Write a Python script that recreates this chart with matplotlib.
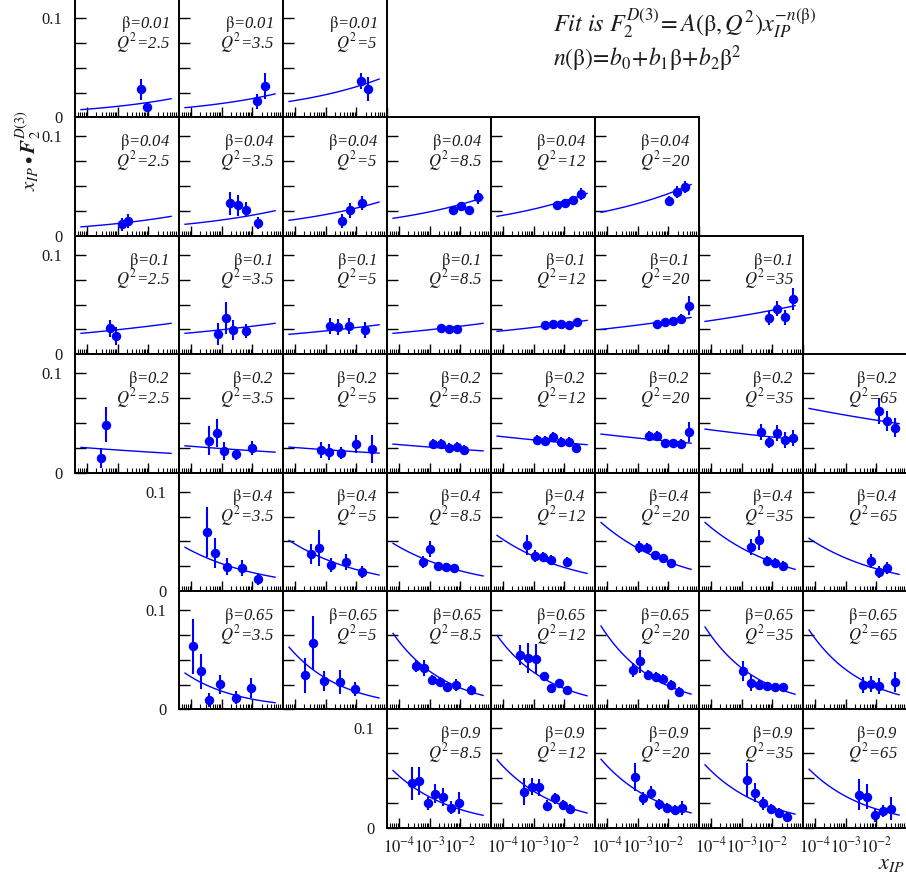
import matplotlib
matplotlib.use("Agg")
import matplotlib.pyplot as plt
import numpy as np
from matplotlib.ticker import FixedLocator, NullFormatter, FixedFormatter

plt.rcParams['font.family'] = 'Liberation Serif'
plt.rcParams['mathtext.fontset'] = 'stix'

betas = [0.01, 0.04, 0.1, 0.2, 0.4, 0.65, 0.9]
q2_values = [2.5, 3.5, 5, 8.5, 12, 20, 35, 65]
beta_text = ['0.01', '0.04', '0.1', '0.2', '0.4', '0.65', '0.9']
q2_text = ['2.5', '3.5', '5', '8.5', '12', '20', '35', '65']

fit_power = [0.13, 0.115, 0.058, -0.04, -0.17, -0.25, -0.225]
fit_xrange = (6.3e-5, 0.055)

# points per beta row: Q2 -> (x_IP, x_IP*F2, error)
beta_001 = {
    2.5: ([5.9e-3, 8.8e-3], [0.0285, 0.0108], [0.0106, 0.005]),
    3.5: ([0.0142, 0.0253], [0.0161, 0.0312], [0.0076, 0.013]),
    5: ([0.0142, 0.024], [0.037, 0.029], [0.008, 0.012]),
}
beta_004 = {
    2.5: ([1.41e-3, 2.1e-3], [0.0116, 0.0149], [0.0064, 0.007]),
    3.5: ([1.86e-3, 3.4e-3, 6.2e-3, 0.0149], [0.0327, 0.0307, 0.0264, 0.0129], [0.0117, 0.0106, 0.0076, 0.0064]),
    5: ([3.4e-3, 6.2e-3, 0.0153], [0.0146, 0.0257, 0.0327], [0.007, 0.0075, 0.007]),
    8.5: ([5.7e-3, 0.0105, 0.0191, 0.0377], [0.0257, 0.0297, 0.0257, 0.0388], [0.004, 0.004, 0.004, 0.007]),
    12: ([5.7e-3, 0.0105, 0.0191, 0.0349], [0.0307, 0.0327, 0.0357, 0.0418], [0.003, 0.004, 0.004, 0.006]),
    20: ([0.0105, 0.0191, 0.0349], [0.0347, 0.0438, 0.0488], [0.005, 0.006, 0.006]),
}
beta_01 = {
    2.5: ([5.6e-4, 8.7e-4], [0.0262, 0.0181], [0.0085, 0.009]),
    3.5: ([7.5e-4, 1.37e-3, 2.33e-3, 6.2e-3], [0.0201, 0.0363, 0.0242, 0.0232], [0.011, 0.016, 0.01, 0.007]),
    5: ([1.37e-3, 2.5e-3, 5.7e-3, 0.0191], [0.0282, 0.0272, 0.0282, 0.0242], [0.008, 0.008, 0.008, 0.008]),
    8.5: ([2.33e-3, 4.25e-3, 7.8e-3], [0.026, 0.025, 0.025], [0.003, 0.003, 0.003]),
    12: ([2.33e-3, 4.25e-3, 7.8e-3, 0.0142, 0.0258], [0.029, 0.030, 0.030, 0.029, 0.032], [0.003, 0.003, 0.003, 0.003, 0.004]),
    20: ([4.25e-3, 7.8e-3, 0.0142, 0.0258, 0.0472], [0.030, 0.032, 0.033, 0.035, 0.049], [0.004, 0.004, 0.004, 0.005, 0.01]),
    35: ([7.8e-3, 0.0142, 0.0258, 0.0472], [0.036, 0.046, 0.037, 0.056], [0.007, 0.008, 0.008, 0.011]),
}
beta_02 = {
    2.5: ([2.77e-4, 4.1e-4], [0.0146, 0.0481], [0.0098, 0.0175]),
    3.5: ([3.8e-4, 6.8e-4, 1.21e-3, 3.0e-3, 9.5e-3], [0.032, 0.0395, 0.022, 0.0186, 0.025], [0.0146, 0.014, 0.009, 0.0055, 0.0072]),
    5: ([7e-4, 1.27e-3, 3.1e-3, 9.7e-3, 0.0324], [0.0227, 0.0206, 0.0196, 0.0287, 0.0237], [0.008, 0.008, 0.006, 0.009, 0.014]),
    8.5: ([1.27e-3, 2.33e-3, 4.25e-3, 7.8e-3, 0.0131], [0.0287, 0.0287, 0.0247, 0.0257, 0.0227], [0.005, 0.005, 0.005, 0.005, 0.005]),
    12: ([1.27e-3, 2.33e-3, 4.25e-3, 7.8e-3, 0.0142, 0.024], [0.0327, 0.0317, 0.0357, 0.0307, 0.0307, 0.0247], [0.005, 0.005, 0.005, 0.005, 0.005, 0.005]),
    20: ([2.33e-3, 4.25e-3, 7.8e-3, 0.0142, 0.0258, 0.0472], [0.0368, 0.0368, 0.0297, 0.0297, 0.0287, 0.0408], [0.005, 0.005, 0.004, 0.004, 0.005, 0.01]),
    35: ([4.25e-3, 7.8e-3, 0.0142, 0.0258, 0.0472], [0.0408, 0.0307, 0.0398, 0.0327, 0.0347], [0.008, 0.006, 0.008, 0.008, 0.008]),
    65: ([0.0125, 0.0228, 0.0415], [0.0622, 0.0522, 0.0451], [0.0134, 0.01, 0.0097]),
}
beta_04 = {
    3.5: ([3.4e-4, 6.0e-4, 1.45e-3, 4.7e-3, 0.0149], [0.0594, 0.038, 0.0245, 0.0235, 0.0124], [0.025, 0.015, 0.0084, 0.008, 0.006]),
    5: ([3.4e-4, 6.0e-4, 1.48e-3, 4.6e-3, 0.0153], [0.037, 0.043, 0.026, 0.029, 0.019], [0.01, 0.018, 0.007, 0.008, 0.006]),
    8.5: ([6.0e-4, 1.02e-3, 1.86e-3, 3.4e-3, 6.2e-3], [0.029, 0.042, 0.025, 0.024, 0.023], [0.006, 0.008, 0.004, 0.004, 0.004]),
    12: ([6.0e-4, 1.1e-3, 2.0e-3, 3.66e-3, 0.0122], [0.046, 0.035, 0.034, 0.031, 0.029], [0.01, 0.006, 0.005, 0.005, 0.005]),
    20: ([1.1e-3, 2.0e-3, 3.66e-3, 6.7e-3, 0.0122], [0.044, 0.043, 0.036, 0.033, 0.028], [0.006, 0.005, 0.004, 0.004, 0.004]),
    35: ([2.0e-3, 3.66e-3, 6.7e-3, 0.0122, 0.0222], [0.044, 0.051, 0.030, 0.028, 0.025], [0.008, 0.01, 0.005, 0.005, 0.005]),
    65: ([6.7e-3, 0.0122, 0.0222], [0.030, 0.019, 0.023], [0.007, 0.006, 0.006]),
}
beta_065 = {
    3.5: ([1.12e-4, 2.05e-4, 3.7e-4, 9.0e-4, 2.85e-3, 9.2e-3], [0.0634, 0.0386, 0.0098, 0.0252, 0.0118, 0.0215], [0.0277, 0.0176, 0.007, 0.0092, 0.0067, 0.01]),
    5: ([2.09e-4, 3.7e-4, 9.0e-4, 2.9e-3, 9.0e-3], [0.0342, 0.0668, 0.0285, 0.0275, 0.0204], [0.0178, 0.027, 0.0097, 0.0117, 0.007]),
    8.5: ([3.6e-4, 6.5e-4, 1.18e-3, 2.16e-3, 3.66e-3, 7.2e-3, 0.0222], [0.044, 0.042, 0.030, 0.028, 0.023, 0.025, 0.020], [0.006, 0.008, 0.005, 0.005, 0.004, 0.006, 0.005]),
    12: ([3.6e-4, 6.5e-4, 1.18e-3, 2.1e-3, 3.66e-3, 6.7e-3, 0.0122], [0.0547, 0.0517, 0.0507, 0.0335, 0.0219, 0.0269, 0.0191], [0.01, 0.0147, 0.0147, 0.004, 0.004, 0.004, 0.0045]),
    20: ([6.8e-4, 1.18e-3, 2.16e-3, 3.85e-3, 6.7e-3, 0.0122, 0.0222], [0.0393, 0.0486, 0.0345, 0.0325, 0.0309, 0.0249, 0.0174], [0.007, 0.0117, 0.005, 0.005, 0.005, 0.005, 0.005]),
    35: ([1.1e-3, 2.0e-3, 3.66e-3, 6.7e-3, 0.0122, 0.0222], [0.039, 0.027, 0.025, 0.024, 0.023, 0.023], [0.01, 0.008, 0.005, 0.004, 0.004, 0.004]),
    65: ([3.66e-3, 6.7e-3, 0.0122, 0.0406], [0.025, 0.026, 0.024, 0.028], [0.008, 0.008, 0.008, 0.01]),
}
beta_09 = {
    8.5: ([2.7e-4, 4.5e-4, 8.5e-4, 1.51e-3, 2.7e-3, 4.8e-3, 8.8e-3], [0.0446, 0.0473, 0.0245, 0.0345, 0.0312, 0.0201, 0.0252], [0.017, 0.0138, 0.0067, 0.01, 0.0089, 0.0067, 0.011]),
    12: ([4.8e-4, 8.5e-4, 1.51e-3, 2.77e-3, 4.8e-3, 8.8e-3, 0.0156], [0.0363, 0.0413, 0.0406, 0.0222, 0.0295, 0.0232, 0.0194], [0.0134, 0.0084, 0.0084, 0.0055, 0.006, 0.005, 0.005]),
    20: ([8.3e-4, 1.51e-3, 2.77e-3, 4.9e-3, 9.0e-3, 0.0161, 0.0285], [0.051, 0.0295, 0.0352, 0.0239, 0.0204, 0.0178, 0.0198], [0.0143, 0.0064, 0.0067, 0.0055, 0.005, 0.005, 0.0067]),
    35: ([1.51e-3, 2.7e-3, 5.0e-3, 9.0e-3, 0.0165, 0.0294], [0.0483, 0.0352, 0.0245, 0.0188, 0.0148, 0.0111], [0.0168, 0.0097, 0.0067, 0.005, 0.005, 0.0045]),
    65: ([2.7e-3, 4.9e-3, 9.0e-3, 0.0165, 0.0294], [0.0335, 0.0315, 0.0124, 0.0168, 0.0191], [0.0154, 0.0126, 0.0064, 0.0058, 0.0117]),
}
rows = [beta_001, beta_004, beta_01, beta_02, beta_04, beta_065, beta_09]

# value of the fit curve at the left end of fit_xrange, per panel
fit_left = [
    {2.5: 0.0078, 3.5: 0.0098, 5: 0.016},
    {2.5: 0.009, 3.5: 0.0116, 5: 0.0156, 8.5: 0.0176, 12: 0.0196, 20: 0.0237},
    {2.5: 0.021, 3.5: 0.021, 5: 0.020, 8.5: 0.021, 12: 0.023, 20: 0.025, 35: 0.033},
    {2.5: 0.0254, 3.5: 0.027, 5: 0.0257, 8.5: 0.0287, 12: 0.0368, 20: 0.0388, 35: 0.0438, 65: 0.0646},
    {3.5: 0.044, 5: 0.051, 8.5: 0.048, 12: 0.056, 20: 0.069, 35: 0.069, 65: 0.053},
    {3.5: 0.0366, 5: 0.0627, 8.5: 0.0765, 12: 0.0745, 20: 0.0839, 35: 0.083, 65: 0.080},
    {8.5: 0.0577, 12: 0.0685, 20: 0.069, 35: 0.0634, 65: 0.059},
]

W, H = 906, 875
fig = plt.figure(figsize=(W / 100, H / 100), dpi=100)
pw, ph = 104, 118.4
x0_px, y0_px = 75, -1
txt = '#1a1a1a'

for r, row in enumerate(rows):
    first = True
    for c, q2 in enumerate(q2_values):
        if q2 not in row:
            continue
        left = (x0_px + c * pw) / W
        bottom = 1 - (y0_px + (r + 1) * ph) / H
        ax = fig.add_axes([left, bottom, pw / W, ph / H])
        ax.set_xscale('log')
        ax.set_xlim(4e-5, 0.1)
        ax.set_ylim(0, 0.1192)

        xs, ys, es = row[q2]
        ax.errorbar(xs, ys, yerr=es, fmt='o', color='#0000ff', ms=5.8,
                    elinewidth=1.5, capsize=0, zorder=3)
        fx = np.logspace(np.log10(fit_xrange[0]), np.log10(fit_xrange[1]), 80)
        fy = fit_left[r][q2] * (fx / fit_xrange[0]) ** fit_power[r]
        ax.plot(fx, fy, color='#0000ff', lw=1)

        label = r'$\mathrm{\beta}$=' + beta_text[r] + '\n' + r'$Q^{2}$=' + q2_text[c]
        ax.text(0.913, 0.875, label, transform=ax.transAxes, ha='right', va='top',
                multialignment='right', linespacing=0.82,
                fontsize=12, fontstyle='italic', color=txt)

        ax.xaxis.set_major_locator(FixedLocator([1e-4, 1e-3, 1e-2, 1e-1]))
        minors = [m * 10.0 ** k for k in range(-5, -1) for m in range(2, 10)]
        ax.xaxis.set_minor_locator(FixedLocator(minors))
        ax.xaxis.set_minor_formatter(NullFormatter())
        ax.yaxis.set_major_locator(FixedLocator([0, 0.025, 0.05, 0.075, 0.1]))
        ax.tick_params(axis='x', which='major', direction='in', length=7, width=1,
                       bottom=True, top=False, labelsize=12, pad=6, labelcolor=txt)
        ax.tick_params(axis='x', which='minor', direction='in', length=3.5, width=0.8,
                       bottom=True, top=False)
        ax.tick_params(axis='y', which='major', direction='in', length=8, width=1,
                       left=True, right=False, labelsize=12, pad=9, labelcolor=txt)
        if r == len(rows) - 1:
            ax.xaxis.set_major_formatter(FixedFormatter(
                [r'$10^{-4}$', r'$10^{-3}$', r'$10^{-2}$', '']))
        else:
            ax.xaxis.set_major_formatter(NullFormatter())
        if first:
            ax.yaxis.set_major_formatter(FixedFormatter(['0', '', '', '', '0.1']))
            first = False
        else:
            ax.yaxis.set_major_formatter(NullFormatter())
        for s in ax.spines.values():
            s.set_linewidth(1.4)

fig.text(553 / W, 1 - 31 / H,
         r'$Fit\ is\ F_2^{D(3)}\!=A(\mathrm{\beta},Q^2)x_{IP}^{-n(\mathrm{\beta})}$',
         ha='left', va='baseline', fontsize=17.5, color=txt)
fig.text(553 / W, 1 - 66 / H,
         r'$n(\mathrm{\beta})\!=\!b_0\!+\!b_1\mathrm{\beta}\!+\!b_2\mathrm{\beta}^2$',
         ha='left', va='baseline', fontsize=17, color=txt)
fig.text(28 / W, 1 - 150 / H, r'$x_{IP}\bullet\mathbfit{F}_2^{D(3)}$',
         rotation=90, ha='center', va='center', fontsize=15, color=txt)
fig.text(905 / W, 1 - 855 / H, r'$x_{IP}$', ha='right', va='top',
         fontsize=16, color=txt)

fig.savefig('out.png', dpi=100)
